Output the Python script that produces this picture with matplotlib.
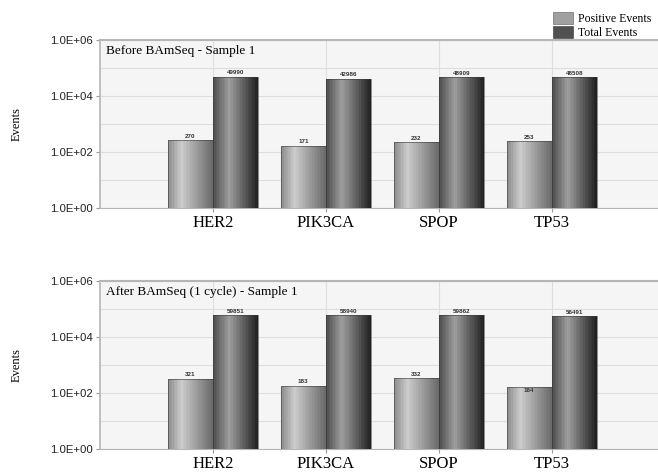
import matplotlib
matplotlib.use("Agg")
import matplotlib.pyplot as plt
import numpy as np
from matplotlib.patches import Patch

# -----------------------------
# Data
# -----------------------------
genes = ["HER2", "PIK3CA", "SPOP", "TP53"]
before_positive = [270, 171, 232, 253]
before_total = [49990, 42986, 48909, 48508]
after_positive = [321, 183, 332, 164]
after_total = [59851, 58940, 59862, 56491]
panel_titles = ["Before BAmSeq - Sample 1", "After BAmSeq (1 cycle) - Sample 1"]
ytick_labels = ["1.0E+00", "1.0E+02", "1.0E+04", "1.0E+06"]

SERIF = "Liberation Serif"
SANS = "Liberation Sans"

# gradient profiles (left -> right), grey levels
pos_stops = ([0.0, 0.3, 1.0], [0.55, 0.80, 0.42])
tot_stops = ([0.0, 0.35, 1.0], [0.30, 0.62, 0.13])


def gradient_bar(ax, x0, width, height, stops, n=30):
    xs = np.linspace(0, 1, n)
    levels = np.interp(xs, *stops)
    w = width / n
    for i, g in enumerate(levels):
        ax.bar(x0 + i * w, height, width=w * 1.02, bottom=1, align="edge",
               color=(g, g, g), linewidth=0, zorder=3)
    # outline
    ax.bar(x0, height, width=width, bottom=1, align="edge", fill=False,
           edgecolor="#3a3a3a", linewidth=0.4, zorder=4)


def draw_panel(ax, positive, total, title):
    x = np.arange(1, len(genes) + 1)
    bw = 0.4
    for xi, p, t in zip(x, positive, total):
        gradient_bar(ax, xi - bw, bw, p - 1, pos_stops)
        gradient_bar(ax, xi, bw, t - 1, tot_stops)
        if p < 170:
            ax.text(xi - bw / 2, p * 0.92, str(p), ha="center", va="top",
                    fontsize=4.5, fontweight="bold", family=SANS, color="#333333", zorder=5)
        else:
            ax.text(xi - bw / 2, p * 1.12, str(p), ha="center", va="bottom",
                    fontsize=4.5, fontweight="bold", family=SANS, color="#333333", zorder=5)
        ax.text(xi + bw / 2, t * 1.12, str(t), ha="center", va="bottom",
                fontsize=4.5, fontweight="bold", family=SANS, color="#333333", zorder=5)

    ax.set_yscale("log")
    ax.set_ylim(1, 1e6)
    ax.set_xlim(0, 4.94)
    ax.set_facecolor("#f5f5f5")

    ax.set_yticks([1, 1e2, 1e4, 1e6])
    ax.set_yticklabels(ytick_labels, family=SANS, fontsize=8.2, color="#222222")
    ax.set_yticks([1e1, 1e3, 1e5], minor=True)
    ax.set_yticklabels([], minor=True)
    ax.tick_params(axis="y", which="minor", length=0)
    ax.tick_params(axis="y", which="major", length=3, color="#999999", pad=2)
    ax.set_xticks(x)
    ax.set_xticklabels(genes, family=SERIF, fontsize=12)
    ax.tick_params(axis="x", length=3, color="#999999", pad=2)

    ax.grid(True, which="both", axis="y", color="#dedede", linewidth=0.8, zorder=0)
    ax.grid(True, which="major", axis="x", color="#dedede", linewidth=0.8, zorder=0)
    ax.set_axisbelow(True)

    for s in ["left", "bottom", "top"]:
        ax.spines[s].set_color("#b5b5b5")
    ax.spines["top"].set_linewidth(1.5)
    ax.spines["left"].set_linewidth(1.2)
    ax.spines["right"].set_visible(False)

    ax.set_ylabel("Events", family=SERIF, fontsize=9, labelpad=20)
    ax.text(0.01, 0.97, title, transform=ax.transAxes, ha="left", va="top",
            family=SERIF, fontsize=9.5, zorder=6)


fig = plt.figure(figsize=(6.58, 4.74), dpi=100)
ax1 = fig.add_axes([0.152, 0.561, 0.848, 0.354])
ax2 = fig.add_axes([0.152, 0.053, 0.848, 0.354])

draw_panel(ax1, before_positive, before_total, panel_titles[0])
draw_panel(ax2, after_positive, after_total, panel_titles[1])

# legend at top right
handles = [Patch(facecolor="#a0a0a0", edgecolor="#555555", linewidth=0.4),
           Patch(facecolor="#505050", edgecolor="#333333", linewidth=0.4)]
fig.legend(handles, ["Positive Events", "Total Events"], loc="upper right",
           bbox_to_anchor=(1.006, 0.998), frameon=False, handlelength=1.7,
           handleheight=1.2, handletextpad=0.4, labelspacing=0.15,
           prop={"family": SERIF, "size": 8.5})

plt.savefig("out.png", dpi=100)
